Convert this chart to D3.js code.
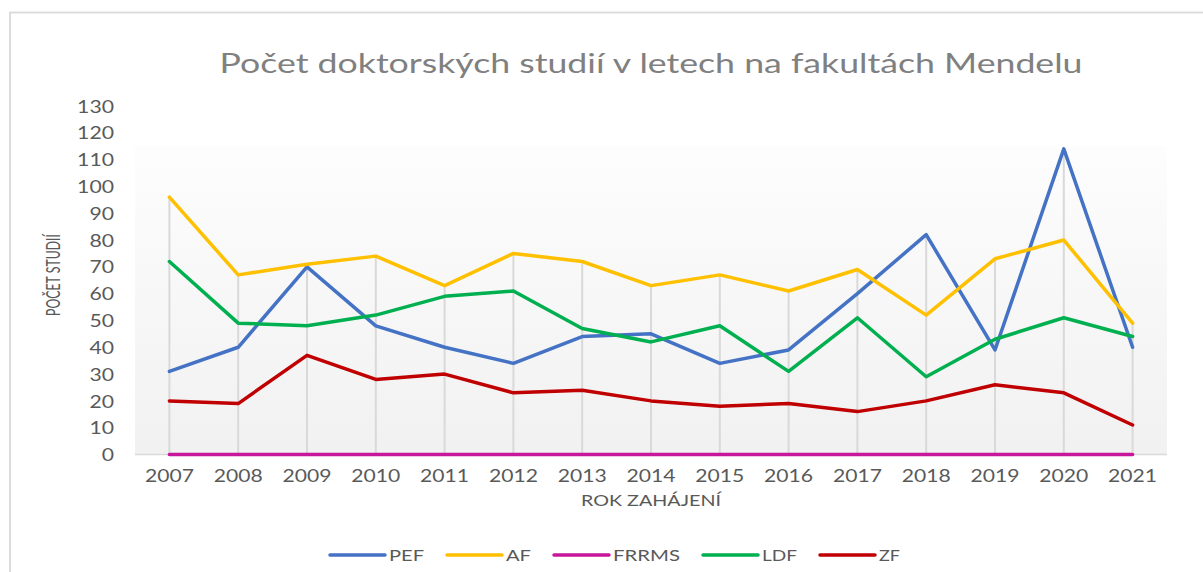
<!DOCTYPE html>
<html><head><meta charset="utf-8">
<script src="https://cdn.jsdelivr.net/npm/d3@7"></script>
<style>
body{margin:0;background:#fff}
svg{display:block}
text{font-family:Lato,"DejaVu Sans",sans-serif}
</style>
</head><body>
<svg id="chart" width="1203" height="572"></svg>
<script>
// ---- data ----
const years = ["2007","2008","2009","2010","2011","2012","2013","2014","2015","2016","2017","2018","2019","2020","2021"];
const pef   = [31,40,70,48,40,34,44,45,34,39,60,82,39,114,40];
const af    = [96,67,71,74,63,75,72,63,67,61,69,52,73,80,49];
const frrms = [0,0,0,0,0,0,0,0,0,0,0,0,0,0,0];
const ldf   = [72,49,48,52,59,61,47,42,48,31,51,29,43,51,44];
const zf    = [20,19,37,28,30,23,24,20,18,19,16,20,26,23,11];
const seriesNames  = ["PEF","AF","FRRMS","LDF","ZF"];
const seriesValues = [pef, af, frrms, ldf, zf];
const seriesColors = ["#4472c4","#ffc000","#c8169a","#00b050","#c00000"];
const yTicks = [0,10,20,30,40,50,60,70,80,90,100,110,120,130];
const chartTitle = "Počet doktorských studií v letech na fakultách Mendelu";
const xTitle = "ROK ZAHÁJENÍ";
const yTitle = "POČET STUDIÍ";

// ---- layout ----
const svg = d3.select("#chart");
const plot = {left:135, right:1167, top:146, bottom:455};

// card border
svg.append("rect").attr("x",10).attr("y",12.5).attr("width",1400).attr("height",800)
  .attr("fill","#fff").attr("stroke","#d9d9d9").attr("stroke-width",1.8);

const x = d3.scaleBand().domain(years).range([plot.left, plot.right]);
const xc = d => x(d) + x.bandwidth()/2;
const y = d3.scaleLinear().domain([0,130]).range([454.5,106]);

// plot background gradient
const defs = svg.append("defs");
const grad = defs.append("linearGradient").attr("id","bg").attr("x1",0).attr("y1",0).attr("x2",0).attr("y2",1);
grad.append("stop").attr("offset","0%").attr("stop-color","#fdfdfd");
grad.append("stop").attr("offset","100%").attr("stop-color","#f1f1f1");
svg.append("rect").attr("x",plot.left).attr("y",plot.top)
  .attr("width",plot.right-plot.left).attr("height",plot.bottom-plot.top).attr("fill","url(#bg)");

// title
svg.append("text").attr("x",(plot.left+plot.right)/2).attr("y",73)
  .attr("text-anchor","middle").attr("font-size",26).attr("fill","#808080")
  .attr("textLength",863).attr("lengthAdjust","spacingAndGlyphs").text(chartTitle);

// horizontal baseline
svg.append("line").attr("x1",plot.left).attr("x2",plot.right).attr("y1",y(0)).attr("y2",y(0))
  .attr("stroke","#d9d9d9").attr("stroke-width",1.5);

// drop lines (from highest value at each year down to axis)
svg.append("g").selectAll("line").data(years).join("line")
  .attr("x1",d=>xc(d)).attr("x2",d=>xc(d))
  .attr("y1",y(0)).attr("y2",(d,i)=>y(d3.max(seriesValues, s=>s[i])))
  .attr("stroke","#d9d9d9").attr("stroke-width",2);

// y axis labels
const yAxis = d3.axisLeft(y).tickValues(yTicks).tickSize(0).tickPadding(0);
const gy = svg.append("g").attr("transform","translate(114,0)").call(yAxis);
gy.select(".domain").remove();
gy.selectAll("text").attr("font-size",17).attr("fill","#595959")
  .attr("font-family","Lato,'DejaVu Sans',sans-serif").attr("dy","0.36em")
  .each(function(d){ d3.select(this).attr("textLength", String(d).length*12.3).attr("lengthAdjust","spacingAndGlyphs"); });

// x axis labels
const xAxis = d3.axisBottom(x).tickSize(0).tickPadding(0);
const gx = svg.append("g").attr("transform","translate(0,482)").call(xAxis);
gx.select(".domain").remove();
gx.selectAll("text").attr("font-size",17).attr("fill","#595959").attr("dy",0)
  .attr("font-family","Lato,'DejaVu Sans',sans-serif")
  .attr("textLength",49).attr("lengthAdjust","spacingAndGlyphs");

// axis titles
svg.append("text").attr("x",(plot.left+plot.right)/2).attr("y",506)
  .attr("text-anchor","middle").attr("font-size",15).attr("fill","#595959")
  .attr("textLength",140).attr("lengthAdjust","spacingAndGlyphs").text(xTitle);
svg.append("text").attr("transform","translate(60,275) rotate(-90)")
  .attr("text-anchor","middle").attr("font-size",19).attr("fill","#595959")
  .attr("textLength",82).attr("lengthAdjust","spacingAndGlyphs").text(yTitle);

// lines
const line = d3.line().x((d,i)=>xc(years[i])).y(d=>y(d));
svg.append("g").selectAll("path").data(seriesValues).join("path")
  .attr("d",line).attr("fill","none")
  .attr("stroke",(d,i)=>seriesColors[i]).attr("stroke-width",3.5)
  .attr("stroke-linejoin","round").attr("stroke-linecap","round");

// legend
const legendWidths = [35,25,67,35,21];
let lx = 330;
const lg = svg.append("g");
seriesNames.forEach((n,i)=>{
  lg.append("line").attr("x1",lx).attr("x2",lx+55).attr("y1",555).attr("y2",555)
    .attr("stroke",seriesColors[i]).attr("stroke-width",3.5).attr("stroke-linecap","round");
  lg.append("text").attr("x",lx+59).attr("y",561).attr("font-size",16).attr("fill","#595959")
    .attr("textLength",legendWidths[i]).attr("lengthAdjust","spacingAndGlyphs").text(n);
  lx += 55 + 4 + legendWidths[i] + 23;
});
</script>
</body></html>
